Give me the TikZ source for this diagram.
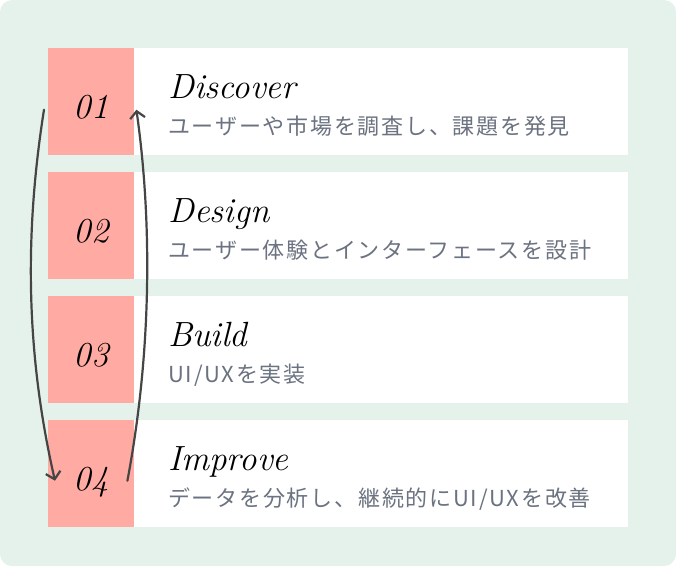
\documentclass[tikz,border=0pt]{standalone}
\usepackage{fontspec}
\usetikzlibrary{arrows.meta}
\newfontfamily\jpfont[LetterSpace=8]{Noto Sans CJK JP}
\definecolor{bggreen}{HTML}{E5F2EC}
\definecolor{pinkbox}{HTML}{FFABA3}
\definecolor{subgray}{HTML}{6B7280}
\definecolor{arrowgray}{HTML}{454545}
\tikzset{
  numbox/.style={fill=pinkbox, minimum width=86pt, minimum height=107pt, inner sep=0pt, anchor=north west},
  cardbox/.style={fill=white, minimum width=494pt, minimum height=107pt, inner sep=0pt, anchor=north west},
  numtext/.style={font=\fontsize{35}{40}\selectfont\itshape, text=black, anchor=base, inner sep=0pt},
  titletext/.style={font=\fontsize{35}{40}\selectfont\itshape, text=black, anchor=base west, inner sep=0pt},
  subtext/.style={font=\jpfont\fontsize{22}{26}\selectfont, text=subgray, anchor=base west, inner sep=0pt},
  cyclearrow/.style={draw=arrowgray, line width=2.2pt, line cap=round, -{Straight Barb[length=7pt,width=15pt,line width=2.2pt]}}
}
\begin{document}
\begin{tikzpicture}[x=1pt,y=-1pt]
\useasboundingbox (0,0) rectangle (676,566);
\fill[bggreen, rounded corners=12pt] (0,0) rectangle (676,566);
\foreach \i/\y/\num/\title/\sub in {
  1/48/01/Discover/{ユーザーや市場を調査し、課題を発見},
  2/172/02/Design/{ユーザー体験とインターフェースを設計},
  3/296/03/Build/{UI/UXを実装},
  4/420/04/Improve/{データを分析し、継続的にUI/UXを改善}}{
  \node[cardbox] (card\i) at (134,\y) {};
  \node[numbox] (box\i) at (48,\y) {};
  \node[numtext] (num\i) at (91,\y+70) {\num};
  \node[titletext] (title\i) at (168,\y+50) {\title};
  \node[subtext] (sub\i) at (168,\y+86) {\sub};
}
\coordinate (lstart) at ([xshift=-4pt,yshift=-8pt]box1.west);
\coordinate (lend) at ([xshift=7pt,yshift=-7pt]box4.west);
\coordinate (rstart) at ([xshift=-7pt,yshift=-7pt]box4.east);
\coordinate (rend) at ([xshift=2pt,yshift=-8pt]box1.east);
\draw[cyclearrow] (lstart) .. controls (25,230) and (25,350) .. (lend);
\draw[cyclearrow] (rstart) .. controls (152,350) and (152,220) .. (rend);
\end{tikzpicture}
\end{document}
